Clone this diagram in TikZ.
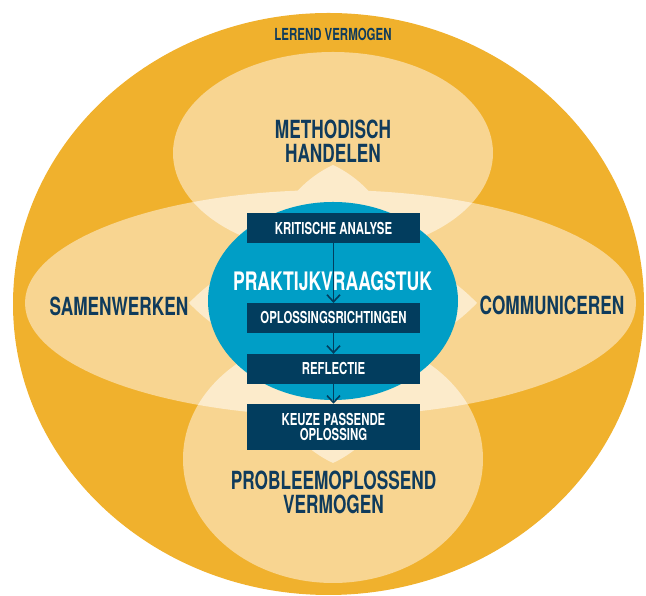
\documentclass[tikz,border=0pt]{standalone}
\usepackage{fontspec}
\newfontfamily\dinfont{TeX Gyre Heros}[FakeStretch=0.69]
\usetikzlibrary{positioning, arrows.meta}
\definecolor{oranje}{HTML}{F0B12D}
\definecolor{licht}{HTML}{F8D591}
\definecolor{room}{HTML}{FCEBCB}
\definecolor{blauw}{HTML}{009EC6}
\definecolor{navy}{HTML}{023D5E}
\definecolor{inkt}{HTML}{0F3B5C}
\tikzset{
thema/.style={
  inner sep=0pt,
  align=center,
  text=inkt,
  font=\dinfont\bfseries\fontsize{25}{24}\selectfont
  },
stap/.style={
  fill=navy,
  text=white,
  inner sep=0pt,
  minimum width=173pt,
  minimum height=29.5pt, align=center,
  font=\dinfont\bfseries\fontsize{16.5}{15}\selectfont
  },
stroom/.style={-{Straight Barb[length=7pt,width=13pt]}, line width=1.6pt, draw=navy}
}
\begin{document}
\begin{tikzpicture}[x=1pt, y=1pt]
\useasboundingbox (0,0) rectangle (646,596);
% achtergrond en velden
\fill[oranje] (328.5,292) ellipse [x radius=315.5, y radius=291];
\fill[licht] (333,443) ellipse [x radius=160, y radius=101];
\fill[licht] (333,137) ellipse [x radius=150, y radius=124];
\fill[licht] (330.5,293) ellipse [x radius=305.5, y radius=113];
\begin{scope}
    \clip (330.5,293) ellipse [x radius=305.5, y radius=113];
    \fill[room] (333,443) ellipse [x radius=160, y radius=101];
    \fill[room] (333,137) ellipse [x radius=150, y radius=124];
\end{scope}
% ster in het midden
\coordinate (top) at (333,431);
\coordinate (bodem) at (333,133);
\coordinate (links) at (189,293);
\coordinate (rechts) at (477,293);
\fill[room] (top) to[bend left=65] (bodem) to[bend left=65] (top);
\fill[room] (links) to[bend left=46] (rechts) to[bend left=46] (links);
\fill[blauw] (333,295) ellipse [x radius=125, y radius=99];
% stappen
\node[stap] (analyse) at (333.5,368) {KRITISCHE ANALYSE};
\node[stap, below=60pt of analyse] (richtingen) {OPLOSSINGSRICHTINGEN};
\node[stap, below=21pt of richtingen] (reflectie) {REFLECTIE};
\node[stap, below=20pt of reflectie, minimum height=46pt] (keuze) {KEUZE PASSENDE\\OPLOSSING};
\draw[stroom] (analyse) -- (richtingen);
\draw[stroom] (richtingen) -- (reflectie);
\draw[stroom] (reflectie) -- (keuze);
% teksten
\node[thema, text=white, font=\dinfont\bfseries\fontsize{25.5}{24}\selectfont] (praktijk) at (332.5,315) {PRAKTIJKVRAAGSTUK};
\node[thema, font=\dinfont\bfseries\fontsize{16.6}{16}\selectfont] (lerend) at (333,561.5) {LEREND VERMOGEN};
\node[thema] (methodisch) at (333,455) {METHODISCH\\HANDELEN};
\node[thema] (samenwerken) at (119,290) {SAMENWERKEN};
\node[thema] (communiceren) at (552,291) {COMMUNICEREN};
\node[thema] (probleem) at (333.5,104) {PROBLEEMOPLOSSEND\\VERMOGEN};
\end{tikzpicture}
\end{document}
